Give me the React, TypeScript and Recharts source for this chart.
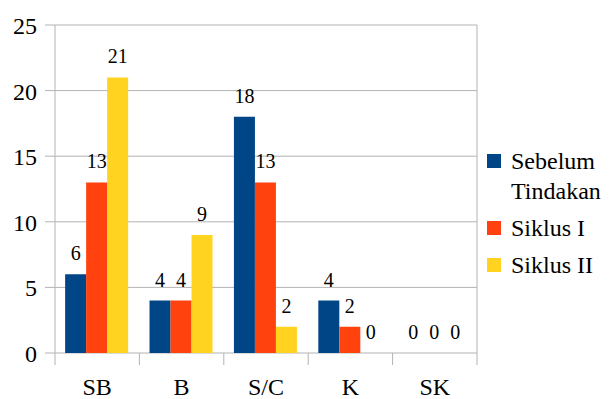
import { BarChart, Bar, XAxis, YAxis, CartesianGrid, LabelList } from "recharts";

const categories = ["SB", "B", "S/C", "K", "SK"];
const sebelumTindakan = [6, 4, 18, 4, 0];
const siklusI = [13, 4, 13, 2, 0];
const siklusII = [21, 9, 2, 0, 0];
const yTicks = [0, 5, 10, 15, 20, 25];

const series = [
  { key: "sebelum", name: "Sebelum Tindakan", lines: ["Sebelum", "Tindakan"], color: "#004586" },
  { key: "siklus1", name: "Siklus I", lines: ["Siklus I"], color: "#ff420e" },
  { key: "siklus2", name: "Siklus II", lines: ["Siklus II"], color: "#ffd320" },
];

const data = categories.map((c, i) => ({
  name: c,
  sebelum: sebelumTindakan[i],
  siklus1: siklusI[i],
  siklus2: siklusII[i],
}));

const W = 610;
const H = 399;
const M = { top: 25, right: 133, bottom: 0, left: 0 };
const Y_AXIS_W = 55;
const X_AXIS_H = 46;
const FONT = "Liberation Serif";
const GRID = "#b3b3b3";

const plotLeft = M.left + Y_AXIS_W;
const plotRight = W - M.right;
const plotBottom = H - M.bottom - X_AXIS_H;
const band = (plotRight - plotLeft) / categories.length;

// category ticks sit on the boundaries between groups, labels in the middle
function XTick(props: any) {
  const { x, payload, index } = props;
  const left = x - band / 2;
  return (
    <g>
      <line x1={left} x2={left} y1={plotBottom} y2={plotBottom + 12} stroke={GRID} strokeWidth={1} />
      {index === categories.length - 1 && (
        <line x1={x + band / 2} x2={x + band / 2} y1={M.top} y2={plotBottom + 12} stroke={GRID} strokeWidth={1} />
      )}
      <text x={x} y={plotBottom + 42} textAnchor="middle" style={{ fontFamily: FONT }} fontSize={24} fill="#000">
        {payload.value}
      </text>
    </g>
  );
}

function YTick(props: any) {
  const { y, payload } = props;
  return (
    <g>
      <line x1={plotLeft - 10} x2={plotLeft} y1={y} y2={y} stroke={GRID} strokeWidth={1} />
      <text x={37} y={y + 9} textAnchor="end" style={{ fontFamily: FONT }} fontSize={24} fill="#000">
        {payload.value}
      </text>
    </g>
  );
}

// value above each bar, including the empty ones
function ValueLabel(props: any) {
  const { x, y, width, value } = props;
  return (
    <text x={x + width / 2} y={y - 14} textAnchor="middle" style={{ fontFamily: FONT }} fontSize={20} fill="#000">
      {value}
    </text>
  );
}

function Legend() {
  let top = 146;
  return (
    <div style={{ position: "absolute", left: 487, top: 0, fontFamily: FONT, fontSize: 24, color: "#000" }}>
      {series.map((s) => {
        const item = (
          <div key={s.key} style={{ position: "absolute", top, left: 0, whiteSpace: "nowrap" }}>
            <div style={{ position: "absolute", left: 0, top: 8, width: 14, height: 14, background: s.color }} />
            {s.lines.map((l, i) => (
              <div key={i} style={{ position: "absolute", left: 24, top: i * 30, lineHeight: "30px" }}>
                {l}
              </div>
            ))}
          </div>
        );
        top += s.lines.length * 30 + 7;
        return item;
      })}
    </div>
  );
}

export default function App() {
  return (
    <div style={{ position: "absolute", left: 0, top: 0, width: W, height: H, background: "#fff", fontFamily: FONT }}>
      <BarChart width={W} height={H} data={data} margin={M} barCategoryGap="12%" barGap={0}>
        <CartesianGrid vertical={false} stroke={GRID} strokeWidth={1} />
        <XAxis
          dataKey="name"
          height={X_AXIS_H}
          axisLine={false}
          tickLine={false}
          tick={<XTick />}
          interval={0}
        />
        <YAxis
          width={Y_AXIS_W}
          domain={[0, 25]}
          ticks={yTicks}
          axisLine={{ stroke: GRID }}
          tickLine={false}
          tick={<YTick />}
          allowDataOverflow
        />
        {series.map((s) => (
          <Bar
            key={s.key}
            dataKey={s.key}
            name={s.name}
            fill={s.color}
            minPointSize={0.01}
            isAnimationActive={false}
          >
            <LabelList dataKey={s.key} content={<ValueLabel />} />
          </Bar>
        ))}
      </BarChart>
      <Legend />
    </div>
  );
}
